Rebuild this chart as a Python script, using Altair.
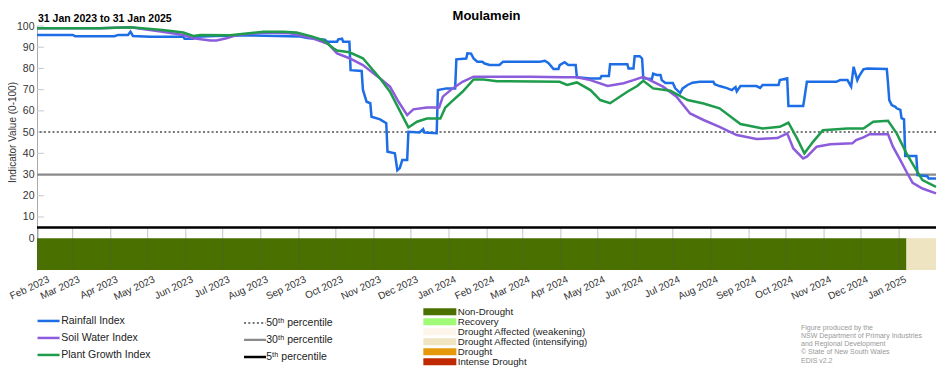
import altair as alt
import pandas as pd

START = pd.Timestamp("2023-01-31")

# ---- data (days since 31 Jan 2023, index value) ----
rain_day = [0, 29, 31, 63, 66, 74, 76, 78, 92, 119, 120, 127, 128, 145, 173, 214, 220, 234, 236, 244,
            245, 248, 249, 254, 255, 264, 265, 268, 271, 272, 279, 284, 285, 291, 293, 295, 297, 301, 302, 311,
            314, 315, 325, 326, 333, 340, 341, 349, 350, 353, 355, 358, 362, 364, 368, 376, 379, 409, 413, 416,
            420, 424, 425, 429, 432, 438, 439, 450, 458, 459, 465, 466, 480, 481, 485, 486, 490, 492, 493, 500,
            501, 504, 507, 508, 511, 517, 519, 523, 525, 529, 533, 539, 550, 551, 555, 561, 565, 568, 569, 572,
            585, 588, 590, 603, 604, 610, 611, 623, 624, 626, 650, 653, 659, 662, 664, 667, 669, 672, 675, 691,
            692, 693, 695, 698, 699, 702, 703, 705, 706, 715, 716, 724, 725, 731]
rain_val = [95.8, 95.8, 95.2, 95.2, 95.8, 95.8, 97.3, 95.3, 94.9, 94.9, 94.0, 94.0, 94.9, 95.3, 95.6, 95.0, 94.3, 93.5, 92.6, 92.6,
            93.7, 94.0, 92.6, 92.6, 79.2, 78.8, 70.0, 64.3, 63.6, 57.2, 56.0, 54.2, 40.7, 40.0, 32.0, 33.0, 36.8, 36.8, 50.1, 49.8,
            51.4, 49.8, 49.5, 69.8, 70.6, 70.6, 84.3, 84.7, 87.1, 87.0, 84.7, 83.2, 83.2, 82.3, 81.6, 81.6, 83.2, 83.2, 83.6, 82.5,
            79.7, 79.7, 81.6, 82.9, 81.6, 81.6, 75.8, 75.3, 75.3, 76.4, 76.4, 82.0, 82.0, 80.0, 80.0, 85.8, 85.8, 84.7, 75.3, 75.0,
            77.5, 76.9, 76.9, 74.5, 73.1, 73.1, 70.6, 68.4, 70.6, 72.2, 73.3, 73.7, 73.7, 72.6, 71.7, 70.7, 69.8, 71.2, 69.2, 71.7,
            71.7, 70.8, 72.2, 72.2, 74.5, 75.3, 62.3, 62.3, 65.9, 73.7, 73.7, 74.5, 74.5, 71.4, 80.8, 74.5, 76.9, 79.6, 80.0, 79.7,
            73.0, 65.1, 62.7, 61.9, 61.2, 60.5, 56.6, 56.0, 38.7, 38.7, 29.7, 29.2, 28.1, 28.1]

soil_day = [0, 51, 76, 102, 119, 127, 141, 146, 154, 163, 184, 206, 224, 237, 244, 254, 265, 279, 287, 294,
            301, 306, 317, 327, 330, 338, 346, 355, 401, 428, 439, 450, 464, 477, 485, 493, 509, 520, 531, 542,
            555, 569, 585, 602, 610, 615, 623, 626, 634, 645, 663, 666, 672, 677, 692, 696, 702, 707, 712, 720, 731]
soil_val = [98.9, 98.9, 99.4, 97.3, 95.8, 94.2, 93.2, 93.2, 94.2, 95.8, 96.9, 96.6, 94.2, 91.5, 87.1, 84.8, 81.6, 75.3, 71.4, 64.3,
            58.0, 60.7, 61.6, 61.6, 66.7, 70.6, 73.7, 76.1, 76.1, 75.8, 75.8, 74.5, 71.7, 73.0, 74.5, 76.0, 71.4, 66.7, 58.8, 55.7,
            52.5, 48.6, 46.7, 47.2, 49.4, 42.3, 37.6, 38.4, 43.1, 44.3, 44.7, 46.2, 47.5, 49.0, 49.0, 43.1, 36.8, 31.3, 26.1, 23.4, 21.1]

plant_day = [0, 51, 76, 102, 119, 127, 133, 157, 184, 200, 211, 224, 233, 241, 244, 254, 265, 279, 287, 294,
             302, 309, 317, 328, 332, 338, 346, 355, 363, 374, 425, 431, 439, 450, 458, 466, 480, 488, 493, 501,
             515, 529, 542, 555, 572, 590, 604, 611, 618, 624, 631, 639, 659, 672, 680, 692, 699, 707, 715, 720, 731]
plant_val = [98.9, 98.9, 99.4, 98.1, 96.9, 95.3, 95.8, 95.6, 97.3, 97.3, 96.9, 95.0, 93.2, 89.5, 88.4, 87.6, 84.8, 75.3, 69.0, 61.2,
             52.2, 54.9, 56.4, 56.4, 61.6, 64.8, 69.0, 74.8, 74.8, 74.0, 73.7, 72.2, 73.4, 69.8, 65.1, 63.6, 69.0, 71.7, 74.2, 70.6,
             69.5, 65.1, 63.5, 61.2, 53.8, 51.7, 52.5, 54.4, 47.0, 40.0, 45.4, 50.9, 51.7, 51.7, 54.9, 55.3, 49.4, 40.0, 32.1, 27.4, 24.2]

series_names = ["Rainfall Index", "Soil Water Index", "Plant Growth Index"]
series_colors = ["#1d6de6", "#8b5cdb", "#1e9c4c"]

pct_labels = ["50\u1d57\u02b0 percentile", "30\u1d57\u02b0 percentile", "5\u1d57\u02b0 percentile"]
pct_values = [50, 30, 5]
pct_colors = ["#7a7a7a", "#8a8a8a", "#000000"]
pct_dash = [[2, 2.3], [1, 0], [1, 0]]
pct_widths = [2, 2.5, 3]

cat_names = ["Non-Drought", "Recovery", "Drought Affected (weakening)",
             "Drought Affected (intensifying)", "Drought", "Intense Drought"]
cat_colors = ["#4a7000", "#a0fc76", "#fdf5ea", "#efe4c2", "#e5980a", "#c02800"]
band_start = [0, 707]
band_end = [707, 731]
band_cat = ["Non-Drought", "Drought Affected (intensifying)"]

y_tick_values = list(range(0, 101, 10))
credits = "Figure produced by the\nNSW Department of Primary Industries\nand Regional Development\n\u00a9 State of New South Wales\nEDIS v2.2"
subtitle = "31 Jan 2023 to 31 Jan 2025"
title = "Moulamein"


def iso(d):
    return (START + pd.Timedelta(days=int(d))).strftime("%Y-%m-%dT%H:%M:%S")


rows = []
for name, days, vals in [(series_names[0], rain_day, rain_val),
                         (series_names[1], soil_day, soil_val),
                         (series_names[2], plant_day, plant_val)]:
    for d, v in zip(days, vals):
        rows.append({"date": iso(d), "value": v, "series": name})
lines_df = pd.DataFrame(rows)

pct_df = pd.DataFrame({"value": pct_values, "label": pct_labels})
band_df = pd.DataFrame({"start": [iso(d) for d in band_start],
                        "end": [iso(d) for d in band_end], "cat": band_cat})
months = pd.date_range("2023-02-01", "2025-01-01", freq="MS")
grid_df = pd.DataFrame({"date": [m.strftime("%Y-%m-%dT%H:%M:%S") for m in months]})
ytick_df = pd.DataFrame({"v": y_tick_values[1:]})
one = pd.DataFrame({"a": [0]})

x_scale = alt.Scale(domain=[alt.DateTime(year=2023, month=1, date=31),
                            alt.DateTime(year=2025, month=1, date=31)])
y_scale = alt.Scale(domain=[-15, 100], nice=False, zero=False)

month_vals = [alt.DateTime(year=m.year, month=m.month, date=1) for m in months]
x_axis = alt.Axis(values=month_vals, format="%b %Y", labelAngle=-25, labelAlign="right",
                  labelBaseline="top", ticks=False, domain=False, grid=False, labelPadding=4,
                  labelOffset={"condition": {"test": "datum.value < datetime(2023, 1, 15)", "value": 8},
                               "value": 4},
                  labelFontSize=10, labelColor="#333", labelOverlap=False, labelBound=False,
                  labelFlush=False, title=None)
y_axis = alt.Axis(values=y_tick_values, ticks=False, grid=False, domainColor="#aaa",
                  labelFontSize=10.5, labelColor="#333", labelPadding=3,
                  title="Indicator Value (0-100)", titleFontSize=10, titleFontWeight="normal",
                  titleColor="#333", titleX=-25, titleY=106, titleAngle=270,
                  titleAlign="center", titleBaseline="middle")

band = alt.Chart(band_df).mark_rect().encode(
    x=alt.X("start:T", scale=x_scale, axis=x_axis),
    x2="end:T",
    y=alt.YDatum(0, scale=y_scale, axis=y_axis),
    y2=alt.Y2Datum(-15),
    color=alt.Color("cat:N", scale=alt.Scale(domain=cat_names, range=cat_colors),
                    legend=alt.Legend(title=None, orient="none", legendX=398, legendY=281,
                                      symbolType="M-4.714,-1L4.714,-1L4.714,1L-4.714,1Z",
                                      symbolSize=49, symbolStrokeWidth=0, labelFontSize=9.7,
                                      labelColor="#222", labelOffset=13, rowPadding=-1.3, padding=0)),
)

grid = alt.Chart(grid_df).mark_rule(color="#555", opacity=0.35, strokeWidth=1).encode(
    x=alt.X("date:T", scale=x_scale, axis=x_axis),
    y=alt.YDatum(5, scale=y_scale, axis=y_axis),
    y2=alt.Y2Datum(-15),
)

yticks = alt.Chart(ytick_df).mark_rule(color="#c8c8c8", strokeWidth=1).encode(
    y=alt.Y("v:Q", scale=y_scale, axis=y_axis),
    x=alt.value(0),
    x2=alt.value(7),
)

pct_legend = alt.Legend(title=None, orient="none", legendX=212.8, legendY=291.7,
                        symbolType="M-3,0L3,0", symbolSize=54, labelFontSize=10.5,
                        labelColor="#222", labelOffset=5.9, rowPadding=6, padding=0)
pct = alt.Chart(pct_df).mark_rule().encode(
    y=alt.Y("value:Q", scale=y_scale, axis=y_axis),
    color=alt.Color("label:N", scale=alt.Scale(domain=pct_labels, range=pct_colors), legend=pct_legend),
    strokeDash=alt.StrokeDash("label:N", scale=alt.Scale(domain=pct_labels, range=pct_dash), legend=pct_legend),
    strokeWidth=alt.StrokeWidth("label:N", scale=alt.Scale(domain=pct_labels, range=pct_widths), legend=pct_legend),
)

lines = alt.Chart(lines_df).mark_line(strokeWidth=2.5).encode(
    x=alt.X("date:T", scale=x_scale, axis=x_axis),
    y=alt.Y("value:Q", scale=y_scale, axis=y_axis),
    color=alt.Color("series:N", scale=alt.Scale(domain=series_names, range=series_colors),
                    legend=alt.Legend(title=None, orient="none", legendX=6.3, legendY=289.7,
                                      symbolType="M-3,0L3,0", symbolSize=54, symbolStrokeWidth=2.5,
                                      labelFontSize=10.5, labelColor="#222", labelOffset=7.4,
                                      rowPadding=6, padding=0)),
)

ttl = alt.Chart(one).mark_text(text=title, fontWeight="bold", fontSize=13, align="center",
                               baseline="alphabetic", color="#000").encode(
    x=alt.value(449.5), y=alt.value(-6.5))

sub = alt.Chart(one).mark_text(text=subtitle, fontWeight="bold", fontSize=10.5, align="left",
                               baseline="alphabetic", color="#000").encode(
    x=alt.value(1), y=alt.value(-4))

cred = alt.Chart(one).mark_text(text=credits, lineBreak="\n", fontSize=7, align="left",
                                baseline="top", color="#999", lineHeight=8.3).encode(
    x=alt.value(764), y=alt.value(297.5))

chart = alt.layer(band, grid, yticks, pct, lines, ttl, sub, cred).resolve_scale(
    color="independent", strokeDash="independent", strokeWidth="independent"
).properties(
    width=899, height=244,
    autosize=alt.AutoSizeParams(type="none"),
    padding={"left": 29, "top": 18, "right": 8, "bottom": 100},
).configure(font="Liberation Sans").configure_view(stroke=None)

chart.save("out.html", embed_options={"renderer": "svg", "actions": False})
